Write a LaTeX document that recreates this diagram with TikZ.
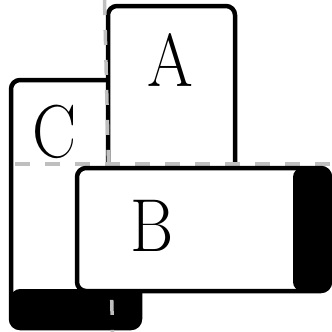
\documentclass[tikz,border=0pt]{standalone}
\newcommand{\thinletter}[1]{\scalebox{0.88}[1]{#1}}
\begin{document}
\begin{tikzpicture}[
    x=1pt, y=-1pt,
    box/.style={draw=black, fill=white, line width=4.5pt, rounded corners=9pt, inner sep=0pt, outer sep=0pt}, % Style for the rounded boxes
    strip_s/.style={path picture={\fill[black] (path picture bounding box.south west) rectangle ([yshift=#1]path picture bounding box.south east);}}, % black band at the bottom
    strip_e/.style={path picture={\fill[black] ([xshift=-#1]path picture bounding box.north east) rectangle (path picture bounding box.south east);}}, % black band at the right
    letter/.style={font=\fontsize{75}{75}\selectfont, inner sep=0pt}, % Style for the letters
    guide/.style={gray!50, line width=3.5pt, dash pattern=on 15pt off 15pt} % Style for the dashed guide lines
]

\useasboundingbox (0,0) rectangle (332,332);

% Box C, tall, band at the bottom
\node[box, strip_s=39pt, minimum width=129pt, minimum height=248pt] (boxC) at (75.5,204) {};
% Box A, tall, lies over C
\node[box, minimum width=127pt, minimum height=248pt] (boxA) at (171.5,130) {};

% Dashed guide lines
\coordinate (v1) at (104.5,0);
\coordinate (v2) at (112.5,332);
\coordinate (h1) at (0,164);
\coordinate (h2) at (332,164);
\draw[guide] (v1) -- (v2);
\draw[guide, dash phase=-15pt] (h1) -- (h2);

% Box B, wide, band at the right
\node[box, strip_e=37pt, minimum width=253pt, minimum height=123pt] (boxB) at (203.5,229.5) {};

% Letters
\node[letter] (labA) at (170.5,60) {\thinletter{A}};
\node[letter] (labC) at (55,131.5) {\thinletter{C}};
\node[letter] (labB) at (152.5,226) {\thinletter{B}};

\end{tikzpicture}
\end{document}
